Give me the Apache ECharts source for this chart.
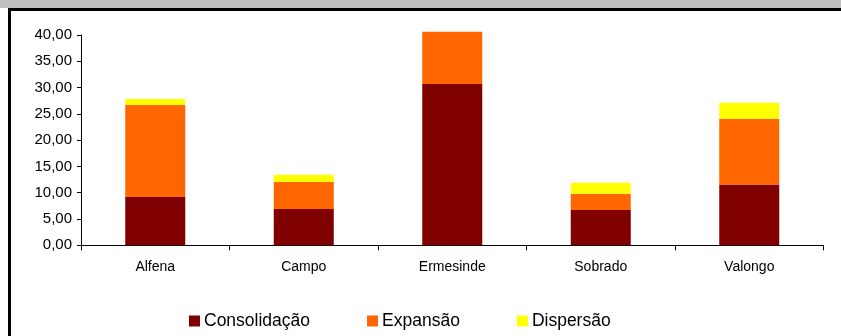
<!DOCTYPE html>
<html><head><meta charset="utf-8">
<script src="https://cdn.jsdelivr.net/npm/echarts@6/dist/echarts.min.js"></script>
<style>html,body{margin:0;padding:0;background:#fff}#c{width:841px;height:336px}</style>
</head><body><div id="c"></div>
<script>
const categories = ['Alfena', 'Campo', 'Ermesinde', 'Sobrado', 'Valongo'];
const consolidacao = [9.2, 6.9, 30.7, 6.7, 11.55];
const expansao = [17.5, 5.15, 9.9, 3.1, 12.5];
const dispersao = [1.15, 1.35, 0, 2.1, 3.05];
const seriesNames = ['Consolidação', 'Expansão', 'Dispersão'];
const yTicks = { min: 0, max: 40, interval: 5 };

const chart = echarts.init(document.getElementById('c'), null, { renderer: 'canvas' });
const font = 'Liberation Sans, Arial, sans-serif';
const colors = ['#800000', '#ff6600', '#ffff00'];
const data = [consolidacao, expansao, dispersao];
chart.setOption({
  animation: false,
  backgroundColor: '#ffffff',
  graphic: [
    { type: 'rect', shape: { x: 0, y: 0, width: 841, height: 8 }, style: { fill: '#c0c0c0' } },
    { type: 'rect', shape: { x: 8, y: 8, width: 833, height: 3 }, style: { fill: '#000' } },
    { type: 'rect', shape: { x: 8, y: 8, width: 3, height: 328 }, style: { fill: '#000' } }
  ],
  grid: { left: 81, right: 17.5, top: 35, bottom: 90.7, containLabel: false },
  legend: {
    left: 184, top: 307,
    itemWidth: 11, itemHeight: 11, itemGap: 57,
    icon: 'rect',
    textStyle: { fontFamily: font, fontSize: 17.5, color: '#000', padding: [0, 0, 0, -1] },
    data: seriesNames
  },
  xAxis: {
    type: 'category', data: categories,
    axisLine: { lineStyle: { color: '#000', width: 1 } },
    axisTick: { show: true, alignWithLabel: false, length: 5, lineStyle: { color: '#000' } },
    axisLabel: { fontFamily: font, fontSize: 14, color: '#000', margin: 15 }
  },
  yAxis: {
    type: 'value', min: yTicks.min, max: yTicks.max, interval: yTicks.interval,
    splitLine: { show: false },
    axisLine: { show: true, lineStyle: { color: '#000', width: 1 } },
    axisTick: { show: true, length: 4, lineStyle: { color: '#000' } },
    axisLabel: { fontFamily: font, fontSize: 15, color: '#000', margin: 9,
      formatter: v => v.toFixed(2).replace('.', ',') }
  },
  series: seriesNames.map((n, i) => ({
    name: n, type: 'bar', stack: 'total', barWidth: 60, clip: false,
    itemStyle: { color: colors[i] },
    data: data[i]
  }))
});
</script></body></html>
